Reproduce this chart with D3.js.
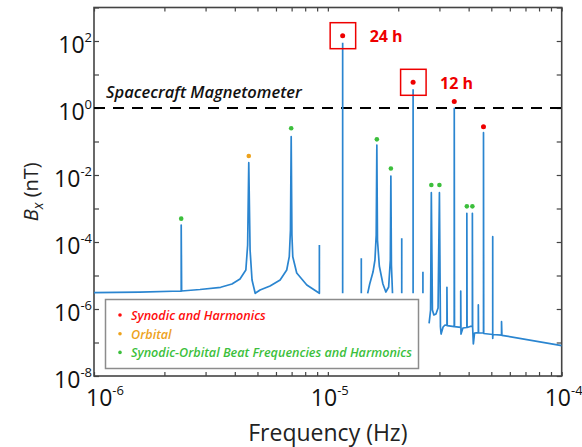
<!DOCTYPE html>
<html>
<head>
<meta charset="utf-8">
<script src="https://cdn.jsdelivr.net/npm/d3@7"></script>
<style>
  body { margin: 0; background: #fff; }
  svg { font-family: "Open Sans", sans-serif; }
</style>
</head>
<body>
<svg id="chart" width="582" height="447"></svg>
<script>
// spectrum (Hz, nT); null = gap in the trace
var freqHz = [
  1.00e-6, 1.57e-6, 2.36e-6, 2.36e-6, 2.37e-6, 2.84e-6, 3.48e-6, 3.89e-6, 4.21e-6, 4.46e-6,
  4.54e-6, 4.59e-6, 4.65e-6, 4.74e-6, 4.89e-6, 5.13e-6, 5.66e-6, 6.25e-6, 6.67e-6, 6.84e-6,
  6.92e-6, 6.97e-6, 7.02e-6, 7.08e-6, 7.36e-6, 8.13e-6, 9.20e-6, 9.20e-6, null,
  1.157e-5, 1.157e-5, null,
  1.39e-5, 1.39e-5, null,
  1.48e-5, 1.51e-5, 1.56e-5, 1.59e-5, 1.61e-5, 1.62e-5, 1.63e-5, 1.66e-5, 1.72e-5, 1.77e-5,
  1.82e-5, 1.85e-5, 1.86e-5, 1.87e-5, 1.89e-5, null,
  2.07e-5, 2.07e-5, null,
  2.315e-5, 2.315e-5, null,
  2.55e-5, 2.55e-5, null,
  2.71e-5, 2.75e-5, 2.77e-5, 2.80e-5, 2.84e-5, 2.90e-5, 2.96e-5, 3.00e-5, 3.03e-5, 3.05e-5,
  3.11e-5, 3.17e-5, 3.23e-5, 3.23e-5, 3.24e-5, 3.47e-5, 3.472e-5, 3.48e-5, 3.70e-5, 3.70e-5,
  3.71e-5, 3.78e-5, 3.93e-5, 3.93e-5, 3.94e-5, 4.06e-5, 4.15e-5, 4.15e-5, 4.16e-5, 4.19e-5,
  4.24e-5, 4.40e-5, 4.40e-5, 4.41e-5, 4.63e-5, 4.63e-5, 4.64e-5, 5.07e-5, 5.07e-5, 5.07e-5,
  5.08e-5, 5.53e-5, 5.53e-5, 5.55e-5, 1.00e-4
];
var bxNT = [
  3.07e-6, 3.21e-6, 3.44e-6, 3.21e-4, 3.44e-6, 3.82e-6, 4.45e-6, 5.57e-6, 7.87e-6, 1.46e-5,
  8.13e-5, 2.33e-2, 5.77e-5, 7.35e-6, 2.94e-6, 3.69e-6, 4.86e-6, 7.35e-6, 1.46e-5, 3.64e-5,
  2.28e-4, 1.39e-1, 1.62e-4, 3.64e-5, 1.19e-5, 5.20e-6, 2.94e-6, 8.13e-5, null,
  2.94e-6, 88.9, null,
  2.94e-6, 3.26e-5, null,
  2.94e-6, 5.57e-6, 1.27e-5, 2.90e-5, 1.62e-4, 7.87e-2, 1.15e-4, 1.92e-5, 5.57e-6, 3.21e-6,
  4.54e-6, 2.90e-5, 9.33e-3, 2.06e-5, 2.94e-6, null,
  2.94e-6, 1.29e-4, null,
  2.94e-6, 3.61, null,
  2.94e-6, 1.30e-5, null,
  3.74e-7, 9.33e-7, 2.96e-3, 9.33e-7, 6.62e-7, 7.10e-7, 1.07e-6, 2.96e-3, 2.96e-7, 1.79e-7,
  2.90e-7, 3.33e-7, 3.21e-7, 4.45e-6, 3.17e-7, 2.96e-7, 0.98, 2.96e-7, 2.84e-7, 3.44e-6,
  1.79e-7, 2.71e-7, 2.81e-7, 7.19e-4, 2.81e-7, 3.01e-7, 3.01e-7, 7.19e-4, 2.90e-7, 9.02e-8,
  1.92e-7, 1.96e-7, 1.32e-6, 1.95e-7, 1.92e-7, 0.183, 1.86e-7, 1.73e-7, 1.44e-4, 1.33e-7,
  1.73e-7, 1.67e-7, 4.18e-7, 1.64e-7, 8.02e-8
];

// peak markers
var synodicF = [1.157e-5, 2.315e-5, 3.472e-5, 4.63e-5];
var synodicB = [144, 5.85, 1.56, 0.277];
var orbitalF = [4.59e-6];
var orbitalB = [0.0369];
var beatF = [2.36e-6, 6.97e-6, 1.62e-5, 1.86e-5, 2.77e-5, 3.00e-5, 3.93e-5, 4.15e-5];
var beatB = [4.97e-4, 0.248, 0.116, 0.0156, 5.02e-3, 5.02e-3, 1.16e-3, 1.16e-3];

// boxed synodic peaks
var boxedF = [1.157e-5, 2.315e-5];
var boxedB = [144, 5.85];
var boxedLabels = ["24 h", "12 h"];

var magnetometerLevel = 1;

var xTickValues = [1e-6, 1e-5, 1e-4];
var xTickExp = ["-6", "-5", "-4"];
var yTickValues = [1e-8, 1e-7, 1e-6, 1e-5, 1e-4, 1e-3, 1e-2, 1e-1, 1, 10, 100, 1000];
var yLabelValues = [1e-8, 1e-6, 1e-4, 1e-2, 1, 100];
var yLabelExp = ["-8", "-6", "-4", "-2", "0", "2"];

var legendLabels = ["Synodic and Harmonics", "Orbital", "Synodic-Orbital Beat Frequencies and Harmonics"];
var legendColors = ["#ff0d0d", "#eda21c", "#3cbf3c"];

var blue = "#2a85d0";
var axisColor = "#444";

var pad_left = 94, pad_right = 561.7, pad_top = 7.5, pad_bottom = 376;

var xScale = d3.scaleLog().domain([1e-6, 1e-4]).range([pad_left, pad_right]);
var yScale = d3.scaleLog().domain([1e-8, 1e3]).range([pad_bottom, pad_top]);

var svg = d3.select("#chart");

var spectrum = freqHz.map(function(f, i) { return {f: f, b: bxNT[i]}; });

// clip to plot box
svg.append("clipPath").attr("id", "plotclip")
    .append("rect")
    .attr("x", pad_left).attr("y", pad_top)
    .attr("width", pad_right - pad_left).attr("height", pad_bottom - pad_top);

// minor x ticks (2..9 per decade)
var xMinor = [];
[1e-6, 1e-5].forEach(function(d) {
    for (var k = 2; k <= 9; k++) xMinor.push(d * k);
});

//Create X axis (bottom and top, ticks inward)
svg.append("g")
    .attr("transform", "translate(0," + pad_bottom + ")")
    .call(d3.axisBottom(xScale).tickValues(xTickValues.concat(xMinor)).tickSize(-4).tickSizeOuter(0).tickFormat(""));
svg.append("g")
    .attr("transform", "translate(0," + pad_top + ")")
    .call(d3.axisTop(xScale).tickValues(xTickValues.concat(xMinor)).tickSize(-4).tickSizeOuter(0).tickFormat(""));

//Create Y axis (left and right)
svg.append("g")
    .attr("transform", "translate(" + pad_left + ",0)")
    .call(d3.axisLeft(yScale).tickValues(yTickValues).tickSize(-5).tickSizeOuter(0).tickFormat(""));
svg.append("g")
    .attr("transform", "translate(" + pad_right + ",0)")
    .call(d3.axisRight(yScale).tickValues(yTickValues).tickSize(-5).tickSizeOuter(0).tickFormat(""));

svg.selectAll(".tick line").style("stroke", axisColor).style("stroke-width", 1.2);
svg.selectAll(".domain").remove();

svg.append("rect")
    .attr("x", pad_left).attr("y", pad_top)
    .attr("width", pad_right - pad_left).attr("height", pad_bottom - pad_top)
    .attr("fill", "none")
    .style("stroke", axisColor)
    .style("stroke-width", 1.6);

// magnetometer noise floor
svg.append("line")
    .attr("x1", xScale(1e-6)).attr("x2", xScale(1e-4))
    .attr("y1", yScale(magnetometerLevel)).attr("y2", yScale(magnetometerLevel))
    .style("stroke", "#000")
    .style("stroke-width", 2)
    .style("stroke-dasharray", "11,8");

svg.append("text")
    .attr("x", 106)
    .attr("y", yScale(magnetometerLevel) - 10)
    .attr("font-size", "16.5px")
    .attr("font-weight", 600)
    .attr("font-style", "italic")
    .attr("fill", "#111")
    .text("Spacecraft Magnetometer");

// spectrum trace
var line = d3.line()
    .defined(function(d) { return d.f != null && d.b != null; })
    .x(function(d) { return xScale(d.f); })
    .y(function(d) { return yScale(d.b); });

svg.append("path")
    .datum(spectrum)
    .attr("clip-path", "url(#plotclip)")
    .attr("d", line)
    .attr("fill", "none")
    .style("stroke", blue)
    .style("stroke-width", 1.7)
    .style("stroke-linejoin", "round");

// markers
function dots(fs, bs, color, r) {
    svg.selectAll(null)
        .data(fs)
        .enter()
        .append("circle")
        .attr("cx", function(d) { return xScale(d); })
        .attr("cy", function(d, i) { return yScale(bs[i]); })
        .attr("r", r)
        .attr("fill", color);
}
dots(beatF, beatB, legendColors[2], 2.3);
dots(orbitalF, orbitalB, legendColors[1], 2.3);
dots(synodicF, synodicB, "#ee0000", 2.5);

// boxes around 24 h and 12 h
svg.selectAll(null)
    .data(boxedF)
    .enter()
    .append("rect")
    .attr("x", function(d) { return xScale(d) - 12.5; })
    .attr("y", function(d, i) { return yScale(boxedB[i]) - 13; })
    .attr("width", 25.5)
    .attr("height", 26)
    .attr("fill", "none")
    .style("stroke", "#ee0000")
    .style("stroke-width", 1.5);

svg.selectAll(null)
    .data(boxedF)
    .enter()
    .append("text")
    .attr("x", function(d) { return xScale(d) + 27; })
    .attr("y", function(d, i) { return yScale(boxedB[i]) + 6.5; })
    .attr("font-size", "16px")
    .attr("font-weight", "bold")
    .attr("fill", "#ee0000")
    .text(function(d, i) { return boxedLabels[i]; });

// legend
var lg = svg.append("g");
lg.append("rect")
    .attr("x", 105.5).attr("y", 299.5)
    .attr("width", 313).attr("height", 69)
    .attr("fill", "#fff")
    .style("stroke", "#8c8c8c")
    .style("stroke-width", 1.5);
legendLabels.forEach(function(t, i) {
    lg.append("circle")
        .attr("cx", 120).attr("cy", 315 + i * 18.7)
        .attr("r", 1.8)
        .attr("fill", legendColors[i]);
    lg.append("text")
        .attr("x", 131).attr("y", 320 + i * 18.7)
        .attr("font-size", "12.6px")
        .attr("font-weight", 600)
        .attr("font-style", "italic")
        .attr("fill", legendColors[i])
        .text(t);
});

// tick labels
var yl = svg.selectAll(null)
    .data(yLabelValues)
    .enter()
    .append("text")
    .attr("x", 92)
    .attr("y", function(d) { return yScale(d) + 11.5; })
    .attr("text-anchor", "end")
    .attr("fill", "#111");
yl.append("tspan").attr("font-size", "23px").text("10");
yl.append("tspan").attr("font-size", "13px").attr("dy", -11).text(function(d, i) { return yLabelExp[i]; });

var xl = svg.selectAll(null)
    .data(xTickValues)
    .enter()
    .append("text")
    .attr("x", function(d, i) { return xScale(d) - (i == 0 ? 8 : 17); })
    .attr("y", 406)
    .attr("fill", "#111");
xl.append("tspan").attr("font-size", "23px").text("10");
xl.append("tspan").attr("font-size", "13px").attr("dy", -11).text(function(d, i) { return xTickExp[i]; });

// axis titles
svg.append("text")
    .attr("x", (pad_left + pad_right) / 2)
    .attr("y", 441)
    .attr("text-anchor", "middle")
    .attr("font-size", "23px")
    .attr("fill", "#222")
    .text("Frequency (Hz)");

var ylab = svg.append("text")
    .attr("transform", "translate(38," + ((pad_top + pad_bottom) / 2) + ") rotate(-90)")
    .attr("text-anchor", "middle")
    .attr("font-size", "20px")
    .attr("fill", "#222");
ylab.append("tspan").attr("font-style", "italic").text("B");
ylab.append("tspan").attr("font-style", "italic").attr("font-size", "14px").attr("dy", 5).text("x");
ylab.append("tspan").attr("dy", -5).text(" (nT)");
</script>
</body>
</html>
